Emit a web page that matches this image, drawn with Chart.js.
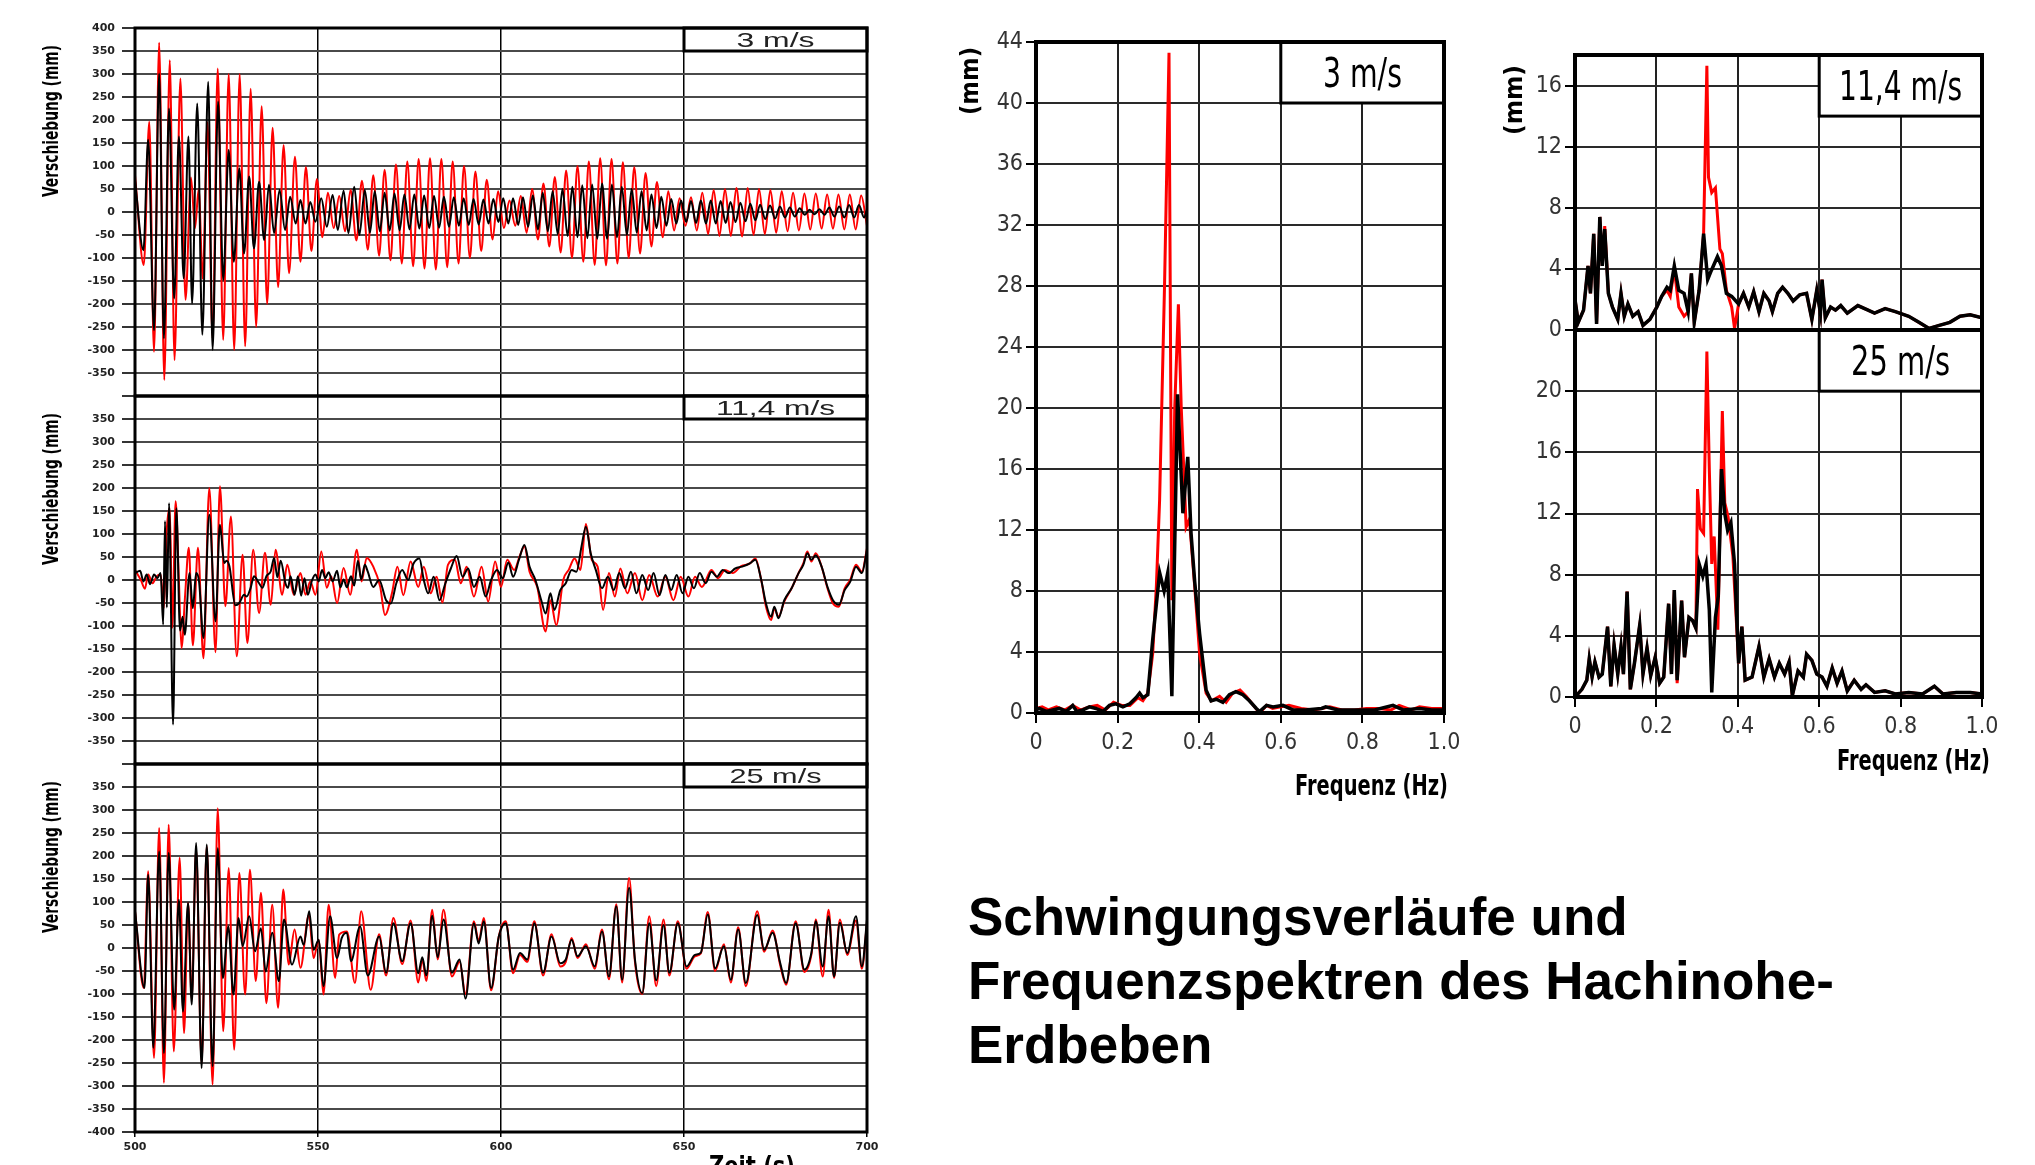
<!DOCTYPE html>
<html>
<head>
<meta charset="utf-8">
<title>Hachinohe-Erdbeben</title>
<script src="https://cdn.jsdelivr.net/npm/chart.js@4.4.1/dist/chart.umd.min.js"></script>
<style>
  html, body { margin: 0; padding: 0; background: #fff; }
  body { position: relative; width: 2035px; height: 1165px; overflow: hidden; }
  canvas { position: absolute; }
  #caption { position: absolute; left: 968px; top: 885px; font: bold 53px 'Liberation Sans', Arial, sans-serif; line-height: 64px; color: #000; white-space: nowrap; }
</style>
</head>
<body>
<div id="caption">Schwingungsverläufe und<br>Frequenzspektren des Hachinohe-<br>Erdbeben</div>
<script>
// panel labels
const speeds = ['3 m/s', '11,4 m/s', '25 m/s'];
const timeTicks = [500, 550, 600, 650, 700];
const freqTicks = [0, 0.2, 0.4, 0.6, 0.8, 1.0];

// time series [t (s), displacement (mm)] - peaks and troughs
const p1Red = [[500,80],[502.4,-115],[503.9,196],[505.2,-304],[506.6,368],[508,-365],[509.5,330],[510.8,-322],[512.4,290],[513.8,-191],[515.3,75],[516.4,-35],[517.4,50],[518.5,-145],[519.8,195],[521.2,-275],[522.6,312],[524.1,-278],[525.6,300],[527.1,-300],[528.6,300],[530.1,-292],[531.6,268],[533.1,-250],[534.6,230],[536.1,-200],[537.6,183],[539.1,-163],[540.6,145],[542.1,-133],[543.7,120],[545.2,-108],[546.7,98],[548.2,-85],[549.7,72],[551.2,-55],[552.7,42],[554.3,-35],[555.8,35],[557.4,-42],[558.9,48],[560.5,-62],[562,68],[563.6,-82],[565.1,80],[566.7,-95],[568.2,92],[569.8,-105],[571.3,103],[572.9,-112],[574.4,110],[576,-118],[577.5,115],[579.1,-123],[580.6,117],[582.2,-125],[583.7,115],[585.3,-120],[586.8,110],[588.4,-112],[589.9,100],[591.5,-100],[593,88],[594.6,-85],[596.1,70],[597.7,-60],[599.2,45],[600.8,-35],[602.3,25],[603.9,-30],[605.4,35],[607,-45],[608.5,50],[610.1,-60],[611.6,62],[613.2,-75],[614.7,76],[616.3,-88],[617.8,90],[619.4,-100],[620.9,100],[622.5,-108],[624,110],[625.6,-115],[627.1,117],[628.7,-116],[630.2,115],[631.8,-112],[633.3,108],[634.9,-100],[636.4,98],[638,-90],[639.5,85],[641.1,-75],[642.6,65],[644.2,-55],[645.7,45],[647.3,-40],[648.8,30],[650.4,-30],[651.9,32],[653.5,-40],[655,42],[656.6,-48],[658.1,48],[659.7,-52],[661.2,50],[662.8,-52],[664.3,52],[665.9,-53],[667.4,52],[669,-50],[670.5,50],[672.1,-48],[673.6,48],[675.2,-45],[676.7,45],[678.3,-42],[679.8,42],[681.4,-40],[682.9,40],[684.5,-38],[686,40],[687.6,-36],[689.1,38],[690.7,-36],[692.2,38],[693.8,-38],[695.3,38],[696.9,-38],[698.4,36],[700,-30]];
const p1Blk = [[500,70],[502.3,-83],[503.6,157],[505.2,-257],[506.6,301],[507.9,-275],[509.3,225],[510.7,-188],[512,164],[513.3,-144],[514.6,164],[515.6,-199],[517,236],[518.4,-267],[520,283],[521.2,-300],[522.7,240],[524.1,-148],[525.6,135],[527,-108],[528.5,95],[529.8,-90],[531.2,77],[532.5,-79],[533.9,66],[535.3,-61],[536.6,59],[538,-46],[539.5,48],[541,-39],[542.4,33],[543.9,-25],[545.2,26],[546.6,-25],[547.9,22],[549.3,-21],[550.9,30],[552.4,-32],[554,37],[555.4,-39],[557,46],[558.3,-46],[559.9,55],[561.3,-50],[562.8,48],[564.2,-45],[565.5,45],[566.9,-42],[568.2,42],[569.6,-40],[570.9,40],[572.3,-40],[573.6,38],[575,-38],[576.3,38],[577.7,-36],[579,36],[580.4,-35],[581.7,35],[583.1,-34],[584.4,33],[585.8,-32],[587.1,32],[588.5,-30],[589.8,30],[591.2,-28],[592.5,28],[593.9,-27],[595.2,27],[596.6,-25],[597.9,28],[599.3,-22],[600.6,30],[602,-25],[603.3,30],[604.7,-28],[606,32],[607.4,-32],[608.7,36],[610.1,-38],[611.4,42],[612.8,-42],[614.1,45],[615.5,-48],[616.8,50],[618.2,-52],[619.5,55],[620.9,-55],[622.2,58],[623.6,-57],[624.9,60],[626.3,-58],[627.6,62],[629,-58],[630.3,60],[631.7,-55],[633,55],[634.4,-50],[635.7,50],[637.1,-45],[638.4,45],[639.8,-40],[641.1,38],[642.5,-35],[643.8,33],[645.2,-30],[646.5,28],[647.9,-25],[649.2,25],[650.6,-22],[651.9,24],[653.3,-24],[654.6,25],[656,-25],[657.3,25],[658.7,-25],[660,24],[661.4,-24],[662.7,22],[664.1,-22],[665.4,20],[666.8,-20],[668.1,18],[669.5,-18],[670.8,16],[672.2,-15],[673.5,14],[674.9,-14],[676.2,12],[677.6,-12],[678.9,10],[680.3,-10],[681.6,8],[683,-6],[684.3,5],[685.7,-5],[687,6],[688.4,-6],[689.7,10],[691.1,-10],[692.4,12],[693.8,-12],[695.1,15],[696.5,-12],[697.8,15],[699.2,-12],[700,5]];

const p2Red = [[500,22],[501.6,0],[502.7,-19],[503.6,12],[504.8,-7],[505.9,8],[507,12],[507.9,-61],[508.6,99],[509.5,157],[510.2,-104],[511.1,171],[512,-3],[512.7,-148],[513.7,-32],[514.7,70],[515.8,-142],[517.2,70],[518.7,-170],[520.3,200],[522,-157],[523.2,204],[524.7,-57],[526.2,138],[527.8,-166],[529.4,55],[530.7,-137],[532.3,66],[533.9,-72],[535.5,59],[537.1,-54],[538.4,66],[540.2,-32],[541.6,33],[543.4,-32],[545.2,15],[546.6,-32],[547.9,-3],[549.3,-32],[550.9,62],[552.4,-17],[553.6,8],[555.2,-50],[557,26],[558.8,-32],[560.6,66],[561.9,-3],[563.3,48],[565.1,29],[567,-15],[568.3,-76],[570.2,-29],[571.7,29],[573.3,-33],[575.3,40],[577.4,-15],[578.9,29],[580.8,-29],[582.4,7],[584,-49],[585.5,33],[587.4,44],[589,-7],[590.6,29],[592.6,-36],[594.7,29],[596.5,-47],[598.4,40],[600,-15],[601.7,44],[603.6,22],[605.2,54],[606.4,73],[607.8,18],[609.9,-15],[612.2,-112],[613.5,-44],[615.1,-98],[617,0],[618.5,22],[620.1,47],[621.7,22],[623.2,122],[624.8,44],[626.4,29],[627.9,-65],[629.5,15],[631.1,-36],[632.6,25],[634.5,-29],[636.6,15],[638.6,-44],[640.5,11],[642.8,-36],[644.9,7],[647.1,-44],[649.1,7],[651.2,-36],[653,7],[654.9,-15],[657.5,22],[659.3,4],[661.2,22],[663.3,15],[665.6,30],[668,36],[669.5,47],[671.1,0],[672.4,-58],[673.8,-87],[674.7,-62],[675.8,-80],[677.4,-47],[679.4,-18],[681.3,15],[682.6,36],[683.7,62],[684.8,40],[686,58],[687.6,29],[689.2,-18],[690.7,-51],[692.3,-58],[693.9,-18],[695.4,0],[697,33],[698.6,18],[700,69]];
const p2Blk = [[500,15],[501.4,20],[502.3,-3],[503.2,12],[504.1,-9],[505.2,12],[506.1,4],[507,15],[507.7,-97],[508.2,128],[508.7,-60],[509.3,167],[510.4,-314],[511.3,156],[512.3,-110],[513,-80],[513.6,-119],[514.9,15],[515.8,-61],[516.7,15],[517.5,-3],[518.7,-126],[520.3,142],[522,-90],[523.2,120],[524.4,37],[525,42],[525.8,30],[527.4,-55],[528.5,-50],[529.8,-32],[530.5,-36],[531.6,-17],[532.5,8],[533.9,-7],[534.8,-17],[535.9,8],[537.1,19],[538,48],[538.9,6],[539.8,42],[541.1,-7],[541.8,-17],[542.5,8],[543.6,-32],[544.5,8],[545.4,-34],[546.3,4],[547.2,-32],[548.4,0],[549.3,12],[550.2,-3],[551.1,22],[552,4],[552.9,17],[554,-3],[555.2,20],[556.1,-16],[557,1],[557.9,-16],[559,8],[559.9,-12],[560.9,42],[561.8,1],[562.8,33],[563.6,18],[565.1,-15],[566.7,0],[568.6,-44],[569.9,-51],[571.4,-7],[573,22],[574.6,0],[576.1,36],[577.7,47],[578.9,0],[580.1,-29],[581.6,7],[583.2,-44],[584.8,-7],[586.3,25],[587.9,52],[589.5,7],[591,25],[592.6,-15],[594.2,7],[595.8,-36],[597.3,0],[598.9,22],[600.5,4],[602,38],[603.3,7],[604.9,44],[606.4,76],[607.8,29],[609.4,0],[611,-44],[612.2,-73],[613.5,-29],[614.6,-65],[616.2,-22],[617.7,-7],[619.3,22],[620.6,18],[622,73],[623.2,116],[624.5,58],[625.9,22],[627.6,-18],[629.2,7],[630.8,-22],[632.3,15],[633.9,-18],[635.5,18],[637,-29],[638.6,11],[640.2,-22],[641.7,15],[643.3,-33],[644.9,11],[646.5,-22],[648,11],[649.6,-29],[651.2,7],[652.7,-18],[654.3,15],[655.9,-7],[657.5,18],[659,7],[660.6,22],[662.2,15],[664,25],[665.9,29],[668,36],[669.5,44],[671.1,0],[672.4,-51],[673.8,-80],[674.7,-58],[675.8,-83],[677.4,-44],[679.4,-18],[681.3,15],[682.6,33],[683.7,58],[684.8,44],[686,54],[687.6,29],[689.2,-15],[690.7,-44],[692.3,-54],[693.9,-22],[695.4,-4],[697,29],[698.6,15],[700,65]];

const p3Red = [[500,80],[502.4,-87],[503.6,167],[505.2,-239],[506.6,261],[507.9,-293],[509.2,268],[510.6,-225],[512.2,196],[513.4,-185],[514.5,98],[515.5,-110],[516.7,215],[518.2,-250],[519.6,221],[521.2,-297],[522.6,304],[524.1,-181],[525.6,174],[527.1,-221],[528.5,163],[530.1,-101],[531.4,170],[533,-72],[534.4,120],[535.9,-120],[537.5,94],[539.1,-130],[540.5,127],[542,-36],[543.6,40],[545.2,-43],[547.5,72],[548.8,-22],[550.2,18],[551.5,-101],[552.9,94],[554.7,-65],[555.8,29],[557.9,36],[560.1,-76],[561.8,80],[564.4,-91],[566.7,30],[568.6,-60],[570.6,65],[573,-35],[575.3,60],[577.4,-75],[578.5,-25],[579.6,-72],[581.2,83],[582.7,-25],[584.3,83],[586.6,-62],[588.7,-30],[590.3,-100],[592.6,58],[593.9,15],[595.3,65],[597.3,-92],[599.4,25],[601.3,58],[603.3,-55],[605.2,-15],[607.2,-30],[609.1,58],[611.5,-60],[613.8,30],[616.2,-40],[617.7,-30],[619.3,22],[620.9,-22],[623.2,8],[625.6,-45],[627.6,40],[629.5,-68],[631.5,95],[633.1,-75],[635,152],[636.6,-30],[638.6,-100],[640.5,69],[642.4,-83],[644.4,62],[646,-60],[648.3,58],[650.7,-45],[653,-18],[654.6,-12],[656.5,78],[658.5,-50],[660.9,8],[662.8,-75],[664.8,45],[666.9,-83],[670,80],[671.9,-8],[674.2,38],[676.3,-38],[677.9,-80],[680.5,58],[682.9,-52],[684.8,-15],[686,62],[687.9,-62],[689.5,83],[691,-65],[692.6,62],[694.6,-15],[697,60],[698.6,-45],[700,55]];
const p3Blk = [[500,80],[502.6,-87],[503.6,159],[505,-217],[506.6,210],[507.9,-228],[509.2,207],[510.7,-134],[512,105],[513.1,-138],[514.5,98],[515.5,-123],[516.7,228],[518.2,-261],[519.6,225],[521.2,-257],[522.6,217],[524,-65],[525.5,47],[526.9,-101],[528.3,65],[529.4,4],[531.2,69],[532.8,-7],[534.4,43],[535.7,-51],[537.5,33],[539.3,-72],[540.7,62],[542.9,-36],[545.2,25],[546.1,7],[547.6,80],[548.8,-4],[550.2,18],[551.5,-83],[553.3,69],[555.2,-22],[556.5,22],[557.9,33],[559,-29],[561.5,47],[563.6,-60],[566.7,25],[568.6,-54],[570.6,54],[573,-29],[575.3,54],[577.4,-55],[578.5,-20],[579.6,-60],[581.2,70],[582.7,-20],[584.3,62],[586.6,-54],[588.7,-25],[590.3,-110],[592.6,54],[593.9,10],[595.3,58],[597.3,-87],[599.4,25],[601.3,54],[603.3,-47],[605.2,-11],[607.2,-25],[609.1,54],[611.5,-54],[613.8,25],[616.2,-33],[617.7,-25],[619.3,18],[620.9,-18],[623.2,4],[625.6,-40],[627.6,36],[629.5,-62],[631.5,91],[633.1,-69],[635,131],[636.6,-25],[638.6,-98],[640.5,54],[642.4,-70],[644.4,50],[646,-54],[648.3,54],[650.7,-40],[653,-15],[654.6,-10],[656.5,73],[658.5,-44],[660.9,4],[662.8,-69],[664.8,40],[666.9,-76],[670,72],[671.9,-4],[674.2,33],[676.3,-33],[677.9,-76],[680.5,54],[682.9,-47],[684.8,-11],[686,58],[687.9,-40],[689.5,69],[691,-62],[692.6,55],[694.6,-11],[697,69],[698.6,-40],[700,62]];

// spectra [f (Hz), amplitude (mm)]
const s1Red = [[0,0.3],[0.015,0.4],[0.03,0.2],[0.05,0.4],[0.07,0.2],[0.09,0.5],[0.11,0.2],[0.13,0.4],[0.15,0.5],[0.17,0.2],[0.19,0.7],[0.21,0.5],[0.23,0.5],[0.25,1.0],[0.262,0.8],[0.274,1.3],[0.286,3.9],[0.295,8.3],[0.303,14],[0.315,28],[0.326,43.3],[0.333,7.4],[0.34,20],[0.349,26.8],[0.356,20],[0.368,12.2],[0.376,12.7],[0.389,8.3],[0.401,3.9],[0.417,1.3],[0.43,0.8],[0.45,1.1],[0.466,0.7],[0.482,1.3],[0.5,1.5],[0.515,1.1],[0.536,0.4],[0.548,0],[0.565,0.5],[0.58,0.3],[0.6,0.4],[0.62,0.5],[0.65,0.3],[0.68,0.2],[0.7,0.3],[0.72,0.4],[0.75,0.2],[0.78,0.2],[0.81,0.3],[0.84,0.3],[0.87,0.2],[0.89,0.5],[0.92,0.2],[0.94,0.4],[0.97,0.3],[1,0.3]];
const s1Blk = [[0,0.2],[0.008,0.3],[0.025,0.1],[0.041,0.2],[0.057,0.3],[0.074,0.1],[0.09,0.5],[0.1,0.1],[0.115,0.2],[0.131,0.4],[0.147,0.3],[0.164,0.1],[0.18,0.5],[0.196,0.6],[0.213,0.4],[0.23,0.6],[0.245,1.0],[0.254,1.3],[0.262,1.0],[0.274,1.2],[0.286,4.8],[0.303,9.2],[0.314,8.0],[0.323,9.2],[0.333,1.1],[0.347,20.9],[0.36,13.1],[0.372,16.8],[0.38,11.8],[0.389,8.6],[0.401,5.2],[0.417,1.5],[0.429,0.8],[0.442,0.9],[0.458,0.7],[0.474,1.2],[0.49,1.4],[0.507,1.2],[0.523,0.8],[0.54,0.3],[0.548,0.1],[0.565,0.5],[0.581,0.4],[0.605,0.5],[0.63,0.2],[0.66,0.2],[0.7,0.3],[0.71,0.4],[0.74,0.2],[0.77,0.2],[0.8,0.2],[0.83,0.2],[0.875,0.5],[0.9,0.2],[0.94,0.3],[0.97,0.2],[1,0.2]];

const s2Red = [[0,2.0],[0.008,0.5],[0.021,1.3],[0.032,4.2],[0.038,2.4],[0.046,6.3],[0.053,0.4],[0.061,7.4],[0.067,4.2],[0.073,6.8],[0.082,2.4],[0.092,1.5],[0.105,0.7],[0.113,2.4],[0.121,0.9],[0.13,1.7],[0.142,0.9],[0.155,1.2],[0.167,0.3],[0.184,0.7],[0.201,1.5],[0.213,2.2],[0.226,2.6],[0.234,2.2],[0.244,4.0],[0.255,1.5],[0.268,0.9],[0.278,1.2],[0.286,3.7],[0.293,0.5],[0.305,2.6],[0.316,6.3],[0.324,17.3],[0.328,10],[0.336,9.0],[0.345,9.3],[0.356,5.3],[0.362,5.0],[0.372,2.6],[0.385,1.5],[0.392,0.1],[0.402,1.7],[0.414,2.4],[0.427,1.5],[0.439,2.5],[0.452,1.2],[0.464,2.4],[0.477,1.9],[0.485,1.2],[0.498,2.4],[0.51,2.8],[0.523,2.4],[0.536,1.9],[0.552,2.3],[0.569,2.4],[0.582,0.7],[0.594,2.6],[0.603,1.1],[0.607,3.3],[0.615,0.8],[0.628,1.5],[0.64,1.3],[0.653,1.6],[0.669,1.1],[0.695,1.6],[0.72,1.3],[0.736,1.1],[0.762,1.4],[0.787,1.2],[0.82,0.9],[0.845,0.5],[0.87,0.1],[0.895,0.3],[0.921,0.5],[0.946,0.9],[0.971,1.0],[1,0.8]];
const s2Blk = [[0,2.0],[0.008,0.5],[0.021,1.3],[0.032,4.2],[0.038,2.4],[0.046,6.3],[0.053,0.4],[0.061,7.4],[0.067,4.2],[0.073,6.6],[0.082,2.4],[0.092,1.5],[0.105,0.7],[0.113,2.4],[0.121,0.9],[0.13,1.7],[0.142,0.9],[0.155,1.2],[0.167,0.3],[0.184,0.7],[0.201,1.5],[0.213,2.2],[0.226,2.8],[0.234,2.6],[0.244,4.2],[0.255,2.6],[0.268,2.4],[0.278,1.2],[0.286,3.7],[0.293,0.5],[0.305,2.6],[0.316,6.3],[0.326,3.3],[0.335,3.9],[0.35,4.8],[0.36,4.2],[0.372,2.4],[0.385,2.2],[0.402,1.7],[0.414,2.4],[0.427,1.5],[0.439,2.5],[0.452,1.2],[0.464,2.4],[0.477,1.9],[0.485,1.2],[0.498,2.4],[0.51,2.8],[0.523,2.4],[0.536,1.9],[0.552,2.3],[0.569,2.4],[0.582,0.7],[0.594,2.6],[0.603,1.1],[0.607,3.3],[0.615,0.8],[0.628,1.5],[0.64,1.3],[0.653,1.6],[0.669,1.1],[0.695,1.6],[0.72,1.3],[0.736,1.1],[0.762,1.4],[0.787,1.2],[0.82,0.9],[0.845,0.5],[0.87,0.1],[0.895,0.3],[0.921,0.5],[0.946,0.9],[0.971,1.0],[1,0.8]];

const s3Red = [[0,0],[0.017,0.5],[0.029,1.1],[0.035,2.5],[0.042,1.3],[0.049,2.3],[0.059,1.3],[0.067,1.5],[0.08,4.6],[0.088,0.7],[0.096,3.4],[0.105,1.5],[0.113,3.3],[0.119,1.5],[0.128,6.9],[0.136,0.5],[0.146,2.2],[0.159,4.7],[0.167,1.5],[0.177,3.2],[0.186,1.4],[0.197,2.6],[0.208,0.9],[0.218,1.3],[0.23,6.1],[0.237,1.5],[0.244,7.0],[0.251,0.9],[0.262,6.3],[0.269,2.6],[0.28,5.2],[0.289,5.0],[0.297,4.5],[0.301,13.6],[0.308,11],[0.316,10.7],[0.324,22.6],[0.33,14.9],[0.336,8.7],[0.342,10.5],[0.351,4.4],[0.362,18.7],[0.368,12.7],[0.376,11.8],[0.388,9.2],[0.402,2.2],[0.41,4.6],[0.418,1.1],[0.435,1.3],[0.452,3.3],[0.464,1.3],[0.477,2.5],[0.49,1.3],[0.502,2.2],[0.515,1.5],[0.526,2.3],[0.534,0.1],[0.548,1.7],[0.561,1.3],[0.569,2.8],[0.582,2.4],[0.594,1.5],[0.607,1.3],[0.619,0.7],[0.632,1.9],[0.644,0.9],[0.656,1.7],[0.669,0.4],[0.686,1.1],[0.703,0.5],[0.715,0.8],[0.736,0.3],[0.762,0.4],[0.787,0.2],[0.82,0.3],[0.854,0.2],[0.883,0.7],[0.904,0.2],[0.937,0.3],[0.971,0.3],[1,0.2]];
const s3Blk = [[0,0],[0.017,0.5],[0.029,1.1],[0.035,2.5],[0.042,1.3],[0.049,2.3],[0.059,1.3],[0.067,1.5],[0.08,4.6],[0.088,0.7],[0.096,3.4],[0.105,1.5],[0.113,3.3],[0.119,1.5],[0.128,6.9],[0.136,0.5],[0.146,2.2],[0.159,4.7],[0.167,1.5],[0.177,3.2],[0.186,1.4],[0.197,2.6],[0.208,0.9],[0.218,1.3],[0.23,6.1],[0.237,1.5],[0.244,7.0],[0.251,1.1],[0.262,6.3],[0.269,2.6],[0.28,5.2],[0.289,5.0],[0.297,4.5],[0.305,8.7],[0.314,7.9],[0.322,8.7],[0.33,5.7],[0.336,0.3],[0.345,5.2],[0.352,6.6],[0.36,14.9],[0.368,12],[0.375,10.9],[0.383,11.4],[0.392,8.7],[0.402,2.2],[0.41,4.6],[0.418,1.1],[0.435,1.3],[0.452,3.3],[0.464,1.3],[0.477,2.5],[0.49,1.3],[0.502,2.2],[0.515,1.5],[0.526,2.3],[0.534,0.1],[0.548,1.7],[0.561,1.3],[0.569,2.8],[0.582,2.4],[0.594,1.5],[0.607,1.3],[0.619,0.7],[0.632,1.9],[0.644,0.9],[0.656,1.7],[0.669,0.4],[0.686,1.1],[0.703,0.5],[0.715,0.8],[0.736,0.3],[0.762,0.4],[0.787,0.2],[0.82,0.3],[0.854,0.2],[0.883,0.7],[0.904,0.2],[0.937,0.3],[0.971,0.3],[1,0.2]];

const NARROW = "'Liberation Sans Narrow', 'Arial Narrow', 'DejaVu Sans Condensed', sans-serif";
const SANS = "'Liberation Sans', Arial, sans-serif";

const xy = pairs => pairs.map(p => ({ x: p[0], y: p[1] }));

function addCanvas(left, top, w, h) {
  const c = document.createElement('canvas');
  c.width = w; c.height = h;
  c.style.left = left + 'px'; c.style.top = top + 'px';
  c.style.width = w + 'px'; c.style.height = h + 'px';
  document.body.appendChild(c);
  return c;
}

function drawText(ctx, t) {
  ctx.save();
  ctx.translate(t.x, t.y);
  if (t.rot) ctx.rotate(t.rot);
  ctx.font = t.font;
  ctx.fillStyle = t.color || '#000';
  ctx.textAlign = t.align || 'center';
  ctx.textBaseline = t.base || 'alphabetic';
  if (t.w) ctx.scale(t.w / ctx.measureText(t.text).width, 1);
  ctx.fillText(t.text, 0, 0);
  ctx.restore();
}

// frame, speed label box and free texts
const framePlugin = {
  id: 'frame',
  afterDraw(chart, args, opts) {
    const ctx = chart.ctx, a = chart.chartArea;
    const xs = chart.scales.x, ys = chart.scales.y;
    ctx.save();
    if (opts.box) {
      const b = opts.box;
      const x0 = xs.getPixelForValue(b[0]), x1 = xs.getPixelForValue(b[1]);
      const y0 = ys.getPixelForValue(b[2]), y1 = ys.getPixelForValue(b[3]);
      ctx.fillStyle = '#fff';
      ctx.fillRect(x0, y0, x1 - x0, y1 - y0);
      ctx.lineWidth = 3;
      ctx.strokeStyle = '#000';
      ctx.strokeRect(x0, y0, x1 - x0, y1 - y0);
      drawText(ctx, { text: opts.label, x: (x0 + x1) / 2, y: (y0 + y1) / 2 + 0.36 * opts.labelSize,
        font: opts.labelSize + 'px ' + opts.labelFamily, w: opts.labelW, color: opts.labelColor });
    }
    ctx.lineWidth = opts.frameWidth || 3;
    ctx.strokeStyle = '#000';
    ctx.strokeRect(a.left, a.top, a.right - a.left, a.bottom - a.top);
    (opts.texts || []).forEach(t => drawText(ctx, t));
    ctx.restore();
  }
};

function timePanel(top, red, black, label, labelW, hide, bottomAxis) {
  const h = bottomAxis ? 1165 - top : 396;
  const c = addCanvas(0, top, 900, h);
  const texts = [{ text: 'Verschiebung (mm)', x: 52, y: 31, rot: -Math.PI / 2, align: 'right', base: 'middle',
    font: 'bold 22px ' + NARROW, w: 152 }];
  if (bottomAxis) texts.push({ text: 'Zeit (s)', x: 752, y: 425, font: 'bold 26px ' + NARROW, w: 86 });
  new Chart(c, {
    type: 'line',
    data: { datasets: [
      { data: xy(black), borderColor: '#000', borderWidth: 2 },
      { data: xy(red), borderColor: '#ff0000', borderWidth: 2 }
    ] },
    options: {
      responsive: false, animation: false, events: [],
      layout: { padding: { left: 0, top: 14, right: 33, bottom: bottomAxis ? 0 : 14 } },
      elements: { point: { radius: 0 }, line: { cubicInterpolationMode: 'monotone' } },
      plugins: {
        legend: { display: false }, tooltip: { enabled: false },
        frame: { box: [650, 700, 400, 350], label: label, labelSize: 21, labelFamily: SANS, labelW: labelW, labelColor: '#222', texts: texts }
      },
      scales: {
        x: {
          type: 'linear', min: 500, max: 700,
          afterBuildTicks: s => { s.ticks = timeTicks.map(v => ({ value: v })); },
          grid: { color: '#000', lineWidth: 1.5, drawTicks: bottomAxis, tickLength: 5, tickColor: '#000' },
          border: { display: false },
          ticks: { display: bottomAxis, padding: 4, color: '#222', maxRotation: 0, font: { family: 'DejaVu Sans', weight: 'bold', size: 11 } },
          afterFit: s => { s.height = bottomAxis ? 1165 - top - 382 : 0; s.paddingLeft = 0; s.paddingRight = 0; }
        },
        y: {
          min: -400, max: 400,
          ticks: { stepSize: 50, padding: 7, color: '#222', font: { family: 'DejaVu Sans', weight: 'bold', size: 11 },
            callback: v => (hide.includes(v) ? '' : v) },
          grid: { color: '#4a4a4a', lineWidth: 2, tickLength: 13, tickColor: '#333' },
          border: { display: false },
          afterFit: s => { s.width = 135; s.paddingTop = 0; s.paddingBottom = 0; }
        }
      }
    },
    plugins: [framePlugin]
  });
}

function specPanel(o) {
  const c = addCanvas(o.left, o.top, o.w, o.h);
  new Chart(c, {
    type: 'line',
    data: { datasets: [
      { data: xy(o.black), borderColor: '#000', borderWidth: 3.5 },
      { data: xy(o.red), borderColor: '#ff0000', borderWidth: 3 }
    ] },
    options: {
      responsive: false, animation: false, events: [],
      layout: { padding: o.pad },
      elements: { point: { radius: 0 }, line: { tension: 0 } },
      plugins: {
        legend: { display: false }, tooltip: { enabled: false },
        frame: { box: [0.6, 1.0, o.yMax, o.yMax - 4], label: o.label, labelSize: 40, labelFamily: NARROW, labelW: o.labelW,
          frameWidth: 4, texts: o.texts }
      },
      scales: {
        x: {
          type: 'linear', min: 0, max: 1,
          afterBuildTicks: s => { s.ticks = freqTicks.map(v => ({ value: v })); },
          grid: { color: '#222', lineWidth: 2, drawTicks: o.showX, tickLength: 10, tickColor: '#000' },
          border: { display: false },
          ticks: { display: o.showX, padding: 6, color: '#333', maxRotation: 0, font: { family: NARROW, size: 23 },
            callback: v => (v === 0 ? '0' : v.toFixed(1)) },
          afterFit: s => { s.height = o.xH; s.paddingLeft = 0; s.paddingRight = 0; }
        },
        y: {
          min: 0, max: o.yMax,
          ticks: { stepSize: 2, padding: 3, color: '#333', font: { family: NARROW, size: 23 },
            callback: v => (v % 4 === 0 && v <= o.labelMax ? v : '') },
          grid: { color: '#2a2a2a', lineWidth: 2, tickLength: 10, tickColor: '#000' },
          border: { display: false },
          afterFit: s => { s.width = o.yW; s.paddingTop = 0; s.paddingBottom = 0; }
        }
      }
    },
    plugins: [framePlugin]
  });
}

// left: displacement time histories
timePanel(14, p1Red, p1Blk, speeds[0], 78, [-400], false);
timePanel(382, p2Red, p2Blk, speeds[1], 119, [-400, 400], false);
timePanel(750, p3Red, p3Blk, speeds[2], 92, [400], true);

// right: frequency spectra
specPanel({ left: 940, top: 0, w: 520, h: 810, pad: { left: 0, top: 42, right: 16, bottom: 0 }, yW: 96, xH: 97,
  yMax: 44, labelMax: 44, red: s1Red, black: s1Blk, label: speeds[0], labelW: 79, showX: true,
  texts: [
    { text: '(mm)', x: 32, y: 81, rot: -Math.PI / 2, base: 'middle', font: 'bold 24px ' + NARROW, w: 68 },
    { text: 'Frequenz (Hz)', x: 508, y: 795, align: 'right', font: 'bold 28px ' + NARROW, w: 153 }
  ] });
specPanel({ left: 1480, top: 0, w: 540, h: 345, pad: { left: 0, top: 55, right: 38, bottom: 15 }, yW: 95, xH: 0,
  yMax: 18, labelMax: 16, red: s2Red, black: s2Blk, label: speeds[1], labelW: 123, showX: false,
  texts: [
    { text: '(mm)', x: 36, y: 100, rot: -Math.PI / 2, base: 'middle', font: 'bold 24px ' + NARROW, w: 70 }
  ] });
specPanel({ left: 1480, top: 320, w: 540, h: 480, pad: { left: 0, top: 10, right: 38, bottom: 0 }, yW: 95, xH: 103,
  yMax: 24, labelMax: 20, red: s3Red, black: s3Blk, label: speeds[2], labelW: 99, showX: true,
  texts: [
    { text: 'Frequenz (Hz)', x: 510, y: 450, align: 'right', font: 'bold 28px ' + NARROW, w: 153 }
  ] });
</script>
</body>
</html>
